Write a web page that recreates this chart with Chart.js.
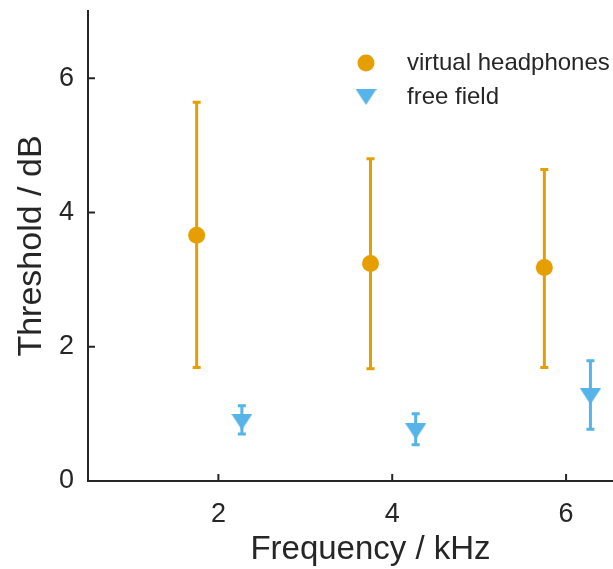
<!DOCTYPE html>
<html>
<head>
<meta charset="utf-8">
<title>Threshold vs frequency</title>
<script src="https://cdn.jsdelivr.net/npm/chart.js@4/dist/chart.umd.min.js"></script>
<style>
  html, body { margin: 0; padding: 0; background: #fff; overflow: hidden; }
  /* the original figure is cut off at its right edge */
  #frame { width: 613px; height: 569px; overflow: hidden; }
</style>
</head>
<body>
<div id="frame"><canvas id="thresholdChart" width="656" height="569"></canvas></div>
<script>
// ========================
// DATA
// ========================
const SERIES_LABELS = ["virtual headphones", "free field"];

const HEADPHONE_FREQ = [1.75, 3.75, 5.75];
const HEADPHONE_MEAN = [3.66, 3.24, 3.18];
const HEADPHONE_LOW = [1.69, 1.67, 1.69];
const HEADPHONE_HIGH = [5.64, 4.80, 4.64];

const FREE_FREQ = [2.27, 4.27, 6.28];
const FREE_MEAN = [0.88, 0.74, 1.26];
const FREE_LOW = [0.70, 0.54, 0.77];
const FREE_HIGH = [1.12, 1.00, 1.79];

const X_TICKS = [2, 4, 6];
const Y_TICKS = [0, 2, 4, 6];

// ========================
// STYLE
// ========================
const ORANGE = "#E69F00";
const SKY = "#56B4E9";
const INK = "#262626";
const FONT = "'Liberation Sans', Arial, Helvetica, sans-serif";

Chart.defaults.font.family = FONT;
Chart.defaults.color = INK;

// downward triangle marker (wider than Chart.js' own triangle)
function makeTriangle(w, h, color) {
  const c = document.createElement("canvas");
  c.width = w;
  c.height = h;
  const g = c.getContext("2d");
  g.fillStyle = color;
  g.beginPath();
  g.moveTo(0, 0);
  g.lineTo(w, 0);
  g.lineTo(w / 2, h);
  g.closePath();
  g.fill();
  return c;
}
const triangle = makeTriangle(21, 16, SKY);

function toPoints(xs, ys, lo, hi) {
  return xs.map((x, i) => ({ x, y: ys[i], lo: lo[i], hi: hi[i] }));
}

// ========================
// PLUGINS
// ========================
// vertical error bars with caps, drawn under the markers
const errorBars = {
  id: "errorBars",
  beforeDatasetsDraw(chart) {
    const { ctx, scales: { x, y } } = chart;
    ctx.save();
    chart.data.datasets.forEach(ds => {
      ctx.strokeStyle = ds.barColor;
      ctx.lineWidth = 3;
      ds.data.forEach(p => {
        const px = x.getPixelForValue(p.x);
        const top = y.getPixelForValue(p.hi);
        const bot = y.getPixelForValue(p.lo);
        ctx.beginPath();
        ctx.moveTo(px, top);
        ctx.lineTo(px, bot);
        ctx.moveTo(px - 4, top);
        ctx.lineTo(px + 4, top);
        ctx.moveTo(px - 4, bot);
        ctx.lineTo(px + 4, bot);
        ctx.stroke();
      });
    });
    ctx.restore();
  }
};

// inward tick marks like the original figure
const innerTicks = {
  id: "innerTicks",
  afterDraw(chart) {
    const { ctx, chartArea: a, scales: { x, y } } = chart;
    ctx.save();
    ctx.strokeStyle = INK;
    ctx.lineWidth = 2;
    ctx.beginPath();
    Y_TICKS.forEach(v => {
      const py = y.getPixelForValue(v);
      ctx.moveTo(a.left, py);
      ctx.lineTo(a.left + 7, py);
    });
    X_TICKS.forEach(v => {
      const px = x.getPixelForValue(v);
      ctx.moveTo(px, a.bottom);
      ctx.lineTo(px, a.bottom - 7);
    });
    ctx.stroke();
    ctx.restore();
  }
};

// legend in the upper right corner, no frame
const cornerLegend = {
  id: "cornerLegend",
  afterDraw(chart) {
    const { ctx, chartArea: a } = chart;
    const mx = a.right - 287;
    const tx = a.right - 246;
    ctx.save();
    ctx.font = "24px " + FONT;
    ctx.textBaseline = "middle";
    chart.data.datasets.forEach((ds, i) => {
      const my = a.top + 52 + i * 34;
      if (ds.pointStyle === "circle") {
        ctx.fillStyle = ds.backgroundColor;
        ctx.beginPath();
        ctx.arc(mx, my, 8.5, 0, Math.PI * 2);
        ctx.fill();
      } else {
        ctx.drawImage(ds.pointStyle, mx - ds.pointStyle.width / 2, my - ds.pointStyle.height / 2);
      }
      ctx.fillStyle = INK;
      ctx.fillText(ds.label, tx, my);
    });
    ctx.restore();
  }
};

// ========================
// CHART
// ========================
const ctx = document.getElementById("thresholdChart").getContext("2d");

new Chart(ctx, {
  type: "scatter",
  data: {
    datasets: [
      {
        label: SERIES_LABELS[0],
        data: toPoints(HEADPHONE_FREQ, HEADPHONE_MEAN, HEADPHONE_LOW, HEADPHONE_HIGH),
        pointStyle: "circle",
        pointRadius: 8.5,
        pointHoverRadius: 8.5,
        backgroundColor: ORANGE,
        borderWidth: 0,
        barColor: ORANGE
      },
      {
        label: SERIES_LABELS[1],
        data: toPoints(FREE_FREQ, FREE_MEAN, FREE_LOW, FREE_HIGH),
        pointStyle: triangle,
        pointRadius: 11,
        backgroundColor: SKY,
        borderWidth: 0,
        barColor: SKY
      }
    ]
  },
  options: {
    responsive: false,
    animation: false,
    layout: { autoPadding: false, padding: { top: 11, right: 3, left: 0, bottom: 0 } },
    plugins: {
      legend: { display: false },
      tooltip: { enabled: false }
    },
    scales: {
      x: {
        type: "linear",
        position: "bottom",
        min: 0.5,
        max: 7,
        afterBuildTicks: s => { s.ticks = X_TICKS.map(v => ({ value: v })); },
        afterFit: s => {
          s.height = 88;
          s.paddingLeft = 0;
          s.paddingRight = 0;
        },
        grid: { drawOnChartArea: false, drawTicks: false },
        border: { display: true, color: INK, width: 2 },
        ticks: { font: { size: 27 }, color: INK, padding: 17, maxRotation: 0 },
        title: {
          display: true,
          text: "Frequency / kHz",
          font: { size: 33 },
          color: INK,
          padding: { top: 0, bottom: -1 }
        }
      },
      y: {
        type: "linear",
        min: 0,
        max: 7,
        afterBuildTicks: s => { s.ticks = Y_TICKS.map(v => ({ value: v })); },
        afterFit: s => {
          s.width = 88;
          s.paddingTop = 0;
          s.paddingBottom = 0;
        },
        grid: { drawOnChartArea: false, drawTicks: false },
        border: { display: true, color: INK, width: 2 },
        ticks: { font: { size: 27 }, color: INK, padding: 14 },
        title: {
          display: true,
          text: "Threshold / dB",
          font: { size: 34 },
          color: INK,
          padding: { top: 11, bottom: 0 }
        }
      }
    }
  },
  plugins: [errorBars, innerTicks, cornerLegend]
});
</script>
</body>
</html>
